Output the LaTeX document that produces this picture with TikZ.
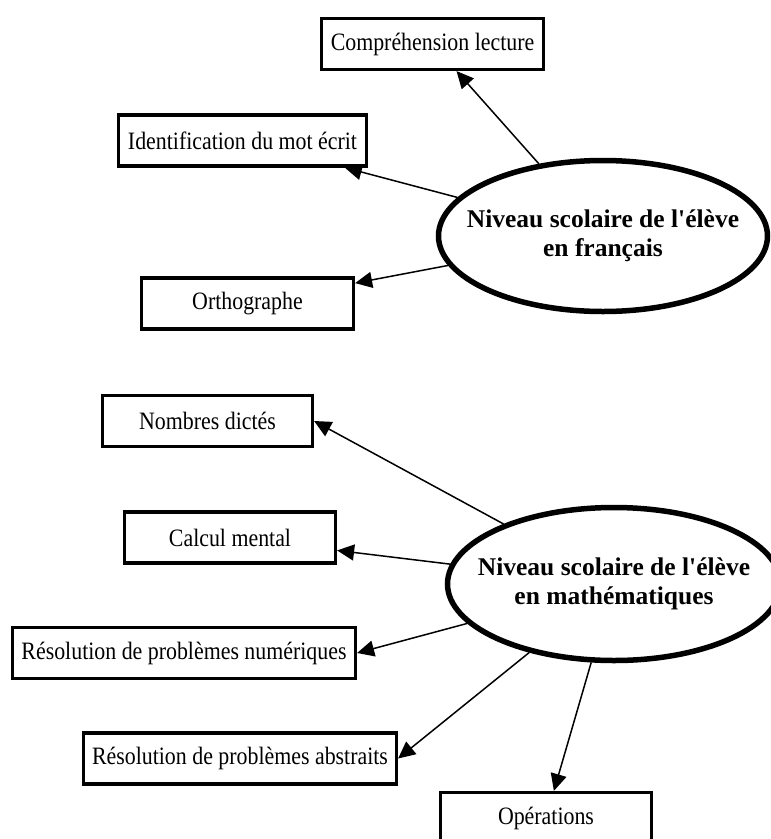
\documentclass[tikz,border=0pt]{standalone}
\usepackage{fontspec}
\setmainfont{Liberation Serif}
\newfontfamily\itemfont{Liberation Serif}[FakeStretch=0.875]
\usepackage{tikz}
\usetikzlibrary{shapes.geometric, arrows.meta}

\begin{document}
\begin{tikzpicture}[
x=1pt, y=-1pt,
every node/.style={align=center, inner sep=0pt, font=\itemfont\fontsize{25}{29}\selectfont},
arrow/.style={-{Triangle[length=17pt,width=16pt]}, line width=1.5pt}
]

% Define styles
\tikzstyle{item} = [rectangle, draw=black, line width=3.2pt, minimum height=51pt]
\tikzstyle{level} = [ellipse, draw=black, line width=5.5pt]
\tikzstyle{lvltext} = [align=center, font=\rmfamily\fontsize{25.5}{29}\selectfont\bfseries]

\useasboundingbox (0,0) rectangle (771,839);
\clip (0,0) rectangle (771,839);

% Nodes
\node (fr) [level, minimum width=329pt, minimum height=151pt, label={[lvltext]center:Niveau scolaire de l\textquotesingle élève\\en français}] at (603,236) {};

\node (comp) [item, minimum width=222pt] at (432.5,44) {Compréhension lecture};

\node (ident) [item, minimum width=248pt] at (242.5,140.5) {Identification du mot écrit};

\node (ortho) [item, minimum width=212pt] at (247.5,303.5) {Orthographe};

\node (math) [level, minimum width=333pt, minimum height=153pt, label={[lvltext]center:Niveau scolaire de l\textquotesingle élève\\en mathématiques}] at (614,584) {};

\node (nomb) [item, minimum width=210pt] at (207.5,421) {Nombres dictés};

\node (calc) [item, minimum width=211pt] at (230,537.5) {Calcul mental};

\node (num) [item, minimum width=343pt] at (184,653) {Résolution de problèmes numériques};

\node (abst) [item, minimum width=313pt] at (240,758.5) {Résolution de problèmes abstraits};

\node (oper) [item, minimum width=211pt] at (546,818) {Opérations};

% Arrows
\draw [arrow] (fr) -- (comp);
\draw [arrow] (fr) -- (ident);
\draw [arrow] (fr) -- (ortho);
\draw [arrow] (math) -- (nomb.east);
\draw [arrow] (math) -- (calc);
\draw [arrow] (math) -- (num.east);
\draw [arrow] (math) -- (abst.east);
\draw [arrow] (math) -- (oper);

\end{tikzpicture}
\end{document}
